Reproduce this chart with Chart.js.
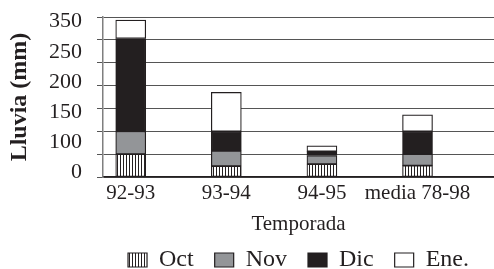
<!DOCTYPE html>
<html lang="es">
<head>
<meta charset="utf-8">
<title>Lluvia por temporada</title>
<script src="https://cdn.jsdelivr.net/npm/chart.js@4.4.1/dist/chart.umd.min.js"></script>
<style>
  html, body { margin: 0; padding: 0; background: #fff; }
  #wrap { width: 494px; height: 269px; position: relative; }
</style>
</head>
<body>
<div id="wrap"><canvas id="myChart"></canvas></div>
<script>
// Datos (lluvia en mm)
const temporadas = ['92-93', '93-94', '94-95', 'media 78-98'];
const lluviaOct = [50, 24, 28, 25];
const lluviaNov = [50, 33, 19, 25];
const lluviaDic = [203, 43, 9, 50];
const lluviaEne = [40, 85, 12, 36];

// Etiquetas del eje Y tal como salen en la figura original
const etiquetasY = ['0', '100', '150', '200', '250', '350'];

const ctx = document.getElementById('myChart');
const tinta = '#231f20';

// Rayado vertical para octubre
function crearRayado() {
    const c = document.createElement('canvas');
    c.width = 3;
    c.height = 1;
    const g = c.getContext('2d');
    g.fillStyle = '#ffffff';
    g.fillRect(0, 0, 3, 1);
    g.fillStyle = tinta;
    g.fillRect(0, 0, 1, 1);
    return ctx.getContext('2d').createPattern(c, 'repeat');
}

// Cada valor va en la posicion de su temporada
function serie(valores) {
    return valores.map((v, i) => ({ x: i, y: v }));
}

Chart.defaults.font.family = "'Liberation Serif', 'Times New Roman', serif";
Chart.defaults.color = tinta;

const rayado = crearRayado();

const graph = new Chart(ctx, {
    type: 'bar',
    data: {
        datasets: [
            { label: 'Oct', data: serie(lluviaOct), backgroundColor: rayado },
            { label: 'Nov', data: serie(lluviaNov), backgroundColor: '#939598' },
            { label: 'Dic', data: serie(lluviaDic), backgroundColor: tinta },
            { label: 'Ene.', data: serie(lluviaEne), backgroundColor: '#ffffff' }
        ]
    },
    options: {
        responsive: true,
        maintainAspectRatio: false,
        animation: false,
        devicePixelRatio: 1,
        layout: {
            padding: { top: 17, left: 0, right: 0, bottom: 0 }
        },
        datasets: {
            bar: {
                barThickness: 30,
                borderColor: tinta,
                borderWidth: 1.2,
                borderSkipped: false
            }
        },
        scales: {
            x: {
                type: 'linear',
                stacked: true,
                offset: false,
                bounds: 'data',
                min: -0.29,
                max: 3.8,
                afterBuildTicks: (scale) => {
                    scale.ticks = temporadas.map((t, i) => ({ value: i }));
                },
                ticks: {
                    callback: (v) => temporadas[v],
                    padding: 4,
                    maxRotation: 0,
                    autoSkip: false,
                    font: { size: 21 }
                },
                grid: { display: false, drawTicks: false },
                border: { color: tinta, width: 1.5 },
                title: {
                    display: true,
                    text: 'Temporada',
                    font: { size: 21 },
                    padding: { top: 0, bottom: -10 }
                },
                // alto fijo para que el area del grafico acabe donde en la figura
                afterFit: (scale) => { scale.height = 50; }
            },
            y: {
                stacked: true,
                min: 0,
                max: 350,
                weight: 0,
                ticks: { display: false, stepSize: 50 },
                grid: { color: '#555555', lineWidth: 1, tickLength: 6, drawTicks: true },
                border: { color: '#7f7f7f', width: 1.5 },
                afterFit: (scale) => { scale.width = 6; }
            },
            // eje solo para las etiquetas (no coinciden con la rejilla en el original)
            yl: {
                type: 'linear',
                position: 'left',
                weight: 1,
                min: 0,
                max: 350,
                afterBuildTicks: (scale) => {
                    const n = etiquetasY.length;
                    scale.ticks = etiquetasY.map((t, i) => ({ value: 9.5 + i * (340 - 9.5) / (n - 1) }));
                },
                ticks: {
                    callback: (v, i) => etiquetasY[i],
                    padding: 15,
                    autoSkip: false,
                    font: { size: 22 }
                },
                grid: { display: false, drawTicks: false },
                border: { display: false },
                title: {
                    display: true,
                    text: 'Lluvia (mm)',
                    font: { size: 24, weight: 'bold' },
                    padding: { top: 5, bottom: 0 }
                },
                afterFit: (scale) => {
                    scale.width = 97;
                    scale.paddingTop = 0;
                    scale.paddingBottom = 0;
                }
            }
        },
        plugins: {
            legend: {
                position: 'bottom',
                fullSize: false,
                maxHeight: 42,
                labels: {
                    boxWidth: 19,
                    boxHeight: 14,
                    padding: 21,
                    color: tinta,
                    font: { size: 24 }
                }
            },
            tooltip: { enabled: false }
        }
    }
});
</script>
</body>
</html>
